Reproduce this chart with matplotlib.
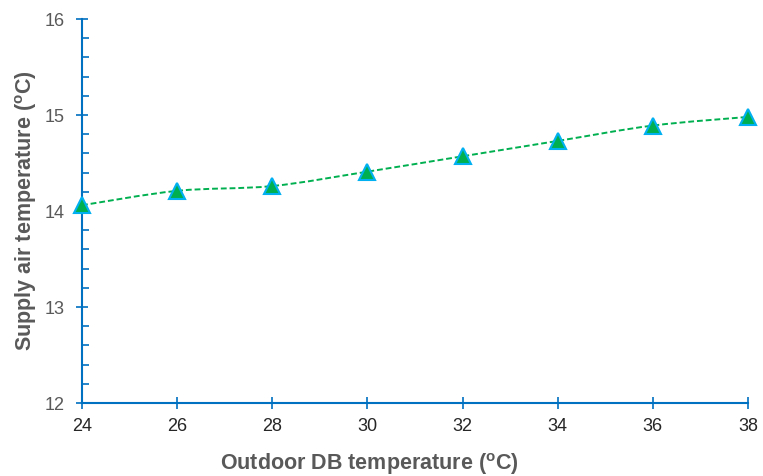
import matplotlib
matplotlib.use("Agg")
import matplotlib.pyplot as plt
from matplotlib.path import Path
from matplotlib.patches import PathPatch
from matplotlib.ticker import MultipleLocator
import numpy as np

plt.rcParams["font.family"] = ["Liberation Sans", "DejaVu Sans"]
plt.rcParams["mathtext.fontset"] = "custom"
plt.rcParams["mathtext.rm"] = "Liberation Sans:bold"

# data
outdoor_t = [24, 26, 28, 30, 32, 34, 36, 38]
supply_t = [14.06, 14.21, 14.26, 14.41, 14.57, 14.73, 14.89, 14.98]

AXIS = "#0070C0"
GREEN = "#00B050"
GRAY = "#595959"

fig = plt.figure(figsize=(7.63, 4.76), dpi=100)
ax = fig.add_axes([82/763, 1-403/476, (748-82)/763, (403-19)/476])

# smoothed line (Catmull-Rom -> cubic bezier, like a spreadsheet "smoothed line")
x = np.array(outdoor_t, float)
y = np.array(supply_t, float)
verts = [(x[0], y[0])]
codes = [Path.MOVETO]
for i in range(len(x) - 1):
    p0 = (x[max(i-1, 0)], y[max(i-1, 0)])
    p1 = (x[i], y[i])
    p2 = (x[i+1], y[i+1])
    p3 = (x[min(i+2, len(x)-1)], y[min(i+2, len(x)-1)])
    c1 = (p1[0] + (p2[0]-p0[0])/6, p1[1] + (p2[1]-p0[1])/6)
    c2 = (p2[0] - (p3[0]-p1[0])/6, p2[1] - (p3[1]-p1[1])/6)
    verts += [c1, c2, p2]
    codes += [Path.CURVE4]*3
ax.add_patch(PathPatch(Path(verts, codes), fill=False, edgecolor=GREEN,
                       lw=1.4, linestyle=(0, (3, 1.5)), zorder=2))
ax.plot(outdoor_t, supply_t, linestyle="none", marker="^", markersize=12,
        markerfacecolor=GREEN, markeredgecolor="#00B0F0", markeredgewidth=1.5,
        zorder=3, clip_on=False)

ax.set_xlim(24, 38)
ax.set_ylim(12, 16)
ax.xaxis.set_major_locator(MultipleLocator(2))
ax.yaxis.set_major_locator(MultipleLocator(1))
ax.yaxis.set_minor_locator(MultipleLocator(0.2))

for s in ["top", "right"]:
    ax.spines[s].set_visible(False)
for s in ["left", "bottom"]:
    ax.spines[s].set_color(AXIS)
    ax.spines[s].set_linewidth(1.5)

ax.tick_params(axis="both", which="major", direction="inout", length=9,
               width=1.2, color=AXIS, labelsize=13, labelcolor=GRAY)
ax.tick_params(axis="y", which="minor", direction="in", length=5,
               width=1.2, color=AXIS)
ax.tick_params(axis="y", which="major", pad=8)
ax.tick_params(axis="x", which="major", pad=6, labelcolor="#262626")

ax.set_xlabel(r"Outdoor DB temperature ($^{\mathrm{o}}$C)", fontsize=15.5,
              fontweight="bold", color=GRAY, labelpad=12)
ax.xaxis.label.set_x(0.432)
ax.set_ylabel(r"Supply air temperature ($^{\mathrm{o}}$C)", fontsize=15.5,
              fontweight="bold", color=GRAY, labelpad=4)

fig.savefig("out.png", dpi=100)
